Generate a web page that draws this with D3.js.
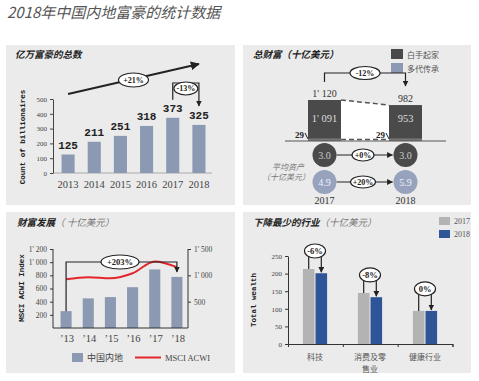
<!DOCTYPE html>
<html>
<head>
<meta charset="utf-8">
<script src="https://cdn.jsdelivr.net/npm/d3@7"></script>
<style>
body { margin: 0; background: #fff; }
text { font-family: "Liberation Serif", serif; fill: #333; }
.cjk { font-family: "Noto Sans CJK SC", sans-serif; }
.mono { font-family: "Liberation Mono", monospace; font-weight: bold; }
</style>
</head>
<body>
<div id="chart"></div>
<script>
// chart 1: billionaire count
var years = ["2013", "2014", "2015", "2016", "2017", "2018"];
var billionaires = [125, 211, 251, 318, 373, 325];
var countTicks = [0, 100, 200, 300, 400, 500];

// chart 2: total wealth
var wealthYears = ["2017", "2018"];
var totalWealth = [1120, 982];
var selfMade = [1091, 953];
var inherited = [29, 29];
var avgSelfMade = ["3.0", "3.0"];
var avgInherited = ["4.9", "5.9"];

// chart 3: wealth development
var devYears = ["13", "14", "15", "16", "17", "18"];
var mainland = [256, 450, 470, 620, 890, 776];
var msci = [925, 965, 945, 1040, 1265, 1155];
var leftTicks = [200, 400, 600, 800, 1000, 1200];
var rightTicks = [500, 1000, 1500];

// chart 4: industries
var industries = ["科技", "消费及零售业", "健康行业"];
var industryLines = [["科技"], ["消费及零", "售业"], ["健康行业"]];
var wealth2017 = [213, 145, 94];
var wealth2018 = [201, 133, 94];
var industryChange = ["-6%", "-8%", "0%"];
var industryTicks = [0, 50, 100, 150, 200, 250];

var blueGray = "#8c99b3", dark = "#4a4a4a", red = "#e3262b", navy = "#2e5597", lightGray = "#b3b3b3";
var fmt = d3.formatLocale({decimal: ".", thousands: "' ", grouping: [3], currency: ["", ""]}).format(",");

var svg = d3.select("#chart").append("svg").attr("width", 479).attr("height", 381);

var defs = svg.append("defs");
defs.append("marker").attr("id", "arr").attr("viewBox", "0 0 10 10")
    .attr("refX", 9).attr("refY", 5).attr("markerWidth", 5).attr("markerHeight", 5)
    .attr("orient", "auto")
  .append("path").attr("d", "M0,0L10,5L0,10z").attr("fill", "#222");

// title
svg.append("text").attr("class", "cjk").attr("x", 7).attr("y", 18)
    .style("font-size", "15px").style("font-style", "italic").style("fill", "#555")
    .text("2018年中国内地富豪的统计数据");

// panels
[[6, 45, 229, 160], [243, 45, 228, 160], [6, 212, 229, 161], [243, 212, 228, 161]].forEach(function(p){
	svg.append("rect").attr("x", p[0]).attr("y", p[1]).attr("width", p[2]).attr("height", p[3]).attr("fill", "#ebebeb");
});

function title(x, y, bold, rest){
	var t = svg.append("text").attr("class", "cjk").attr("x", x).attr("y", y)
	    .style("font-size", "9.5px").style("font-style", "italic");
	t.append("tspan").style("font-weight", "bold").style("fill", "#222").text(bold);
	if (rest) t.append("tspan").style("fill", "#777").text(rest);
}

function ellipse(g, cx, cy, rx, ry, label, size){
	g.append("ellipse").attr("cx", cx).attr("cy", cy).attr("rx", rx).attr("ry", ry)
	    .attr("fill", "#fff").attr("stroke", "#222").attr("stroke-width", 1.2);
	g.append("text").attr("x", cx).attr("y", cy + size * 0.35).attr("text-anchor", "middle")
	    .style("font-size", size + "px").style("font-weight", "bold").style("fill", "#222").text(label);
}

function bracket(g, x1, y1, x2, y2, top){
	g.append("path").attr("d", "M" + x1 + "," + y1 + "V" + top + "H" + x2 + "V" + y2)
	    .attr("fill", "none").attr("stroke", "#222").attr("stroke-width", 1.2)
	    .attr("marker-end", "url(#arr)");
}

function yLabel(x, y, txt){
	svg.append("text").attr("class", "mono").attr("transform", "translate(" + x + "," + y + ") rotate(-90)")
	    .attr("text-anchor", "middle").style("font-size", "7.5px").style("fill", "#222").text(txt);
}

// ---------- chart 1 ----------
title(15, 58, "亿万富豪的总数");
var g1 = svg.append("g");
var x1 = d3.scaleBand().domain(years).range([55, 212]).paddingInner(0.5).paddingOuter(0.25);
var y1 = d3.scaleLinear().domain([0, 500]).range([173, 99]);

g1.append("line").attr("x1", 53).attr("x2", 212).attr("y1", y1(0)).attr("y2", y1(0)).attr("stroke", "#aaa");
var ax1 = g1.append("g").attr("transform", "translate(53,0)")
    .call(d3.axisLeft(y1).tickValues(countTicks).tickSize(3).tickSizeOuter(0));
ax1.selectAll("text").style("font-size", "7px").style("fill", "#444").attr("font-family", null);
ax1.selectAll("line,path").attr("stroke", "#444");

g1.selectAll(".bar").data(billionaires).enter().append("rect")
    .attr("x", function(d, i){ return x1(years[i]); })
    .attr("y", function(d){ return y1(d); })
    .attr("width", x1.bandwidth())
    .attr("height", function(d){ return y1(0) - y1(d); })
    .attr("fill", blueGray);
g1.selectAll(".val").data(billionaires).enter().append("text")
    .attr("class", "mono")
    .attr("x", function(d, i){ return x1(years[i]) + x1.bandwidth() / 2; })
    .attr("y", function(d){ return y1(d) - 6; })
    .attr("text-anchor", "middle").style("font-size", "11px").style("fill", "#222")
    .text(function(d){ return d; });
g1.selectAll(".yr").data(years).enter().append("text")
    .attr("x", function(d){ return x1(d) + x1.bandwidth() / 2; })
    .attr("y", 188).attr("text-anchor", "middle").style("font-size", "10.5px").style("fill", "#444")
    .text(function(d){ return d; });
yLabel(25, 137, "Count of billionaires");

// +21% trend arrow
var c0 = x1(years[0]) + x1.bandwidth() / 2, c5 = x1(years[5]) + x1.bandwidth() / 2;
g1.append("line").attr("x1", c0).attr("y1", 94).attr("x2", c5).attr("y2", 64)
    .attr("stroke", "#222").attr("stroke-width", 1.8).attr("marker-end", "url(#arr)");
ellipse(g1, (c0 + c5) / 2, 80, 15, 7, "+21%", 8);
// -13%
var c4 = x1(years[4]) + x1.bandwidth() / 2;
bracket(g1, c4, y1(billionaires[4]) - 18, c5, y1(billionaires[5]) - 19, 83);
ellipse(g1, (c4 + c5) / 2, 88.5, 12, 6.5, "-13%", 8);

// ---------- chart 2 ----------
title(253, 58, "总财富（十亿美元）");
var g2 = svg.append("g");
var x2 = d3.scalePoint().domain(wealthYears).range([324.5, 405.5]);
var y2 = d3.scaleLinear().domain([0, 1120]).range([141, 100]);
var bw2 = 33;

// legend
[["白手起家", dark], ["多代传承", blueGray]].forEach(function(d, i){
	g2.append("rect").attr("x", 391).attr("y", 49 + i * 14).attr("width", 12).attr("height", 10).attr("fill", d[1]);
	g2.append("text").attr("class", "cjk").attr("x", 407).attr("y", 57.5 + i * 14)
	    .style("font-size", "8px").style("fill", "#555").text(d[0]);
});

var ax0 = x2("2017") + bw2 / 2, bx0 = x2("2018") - bw2 / 2;
g2.append("path")
    .attr("d", "M" + ax0 + "," + y2(totalWealth[0]) + "L" + bx0 + "," + y2(totalWealth[1]) +
        "L" + bx0 + "," + y2(0) + "L" + ax0 + "," + y2(0) + "Z")
    .attr("fill", "#fff");
g2.append("line").attr("x1", ax0).attr("y1", y2(totalWealth[0])).attr("x2", bx0).attr("y2", y2(totalWealth[1]))
    .attr("stroke", "#555").attr("stroke-width", 1.5).attr("stroke-dasharray", "5,3");
g2.append("line").attr("x1", ax0).attr("y1", y2(0) - 1.5).attr("x2", bx0).attr("y2", y2(0) - 1.5)
    .attr("stroke", "#555").attr("stroke-width", 1.5).attr("stroke-dasharray", "5,3");

g2.selectAll(".sm").data(totalWealth).enter().append("rect")
    .attr("x", function(d, i){ return x2(wealthYears[i]) - bw2 / 2; })
    .attr("y", function(d){ return y2(d); })
    .attr("width", bw2)
    .attr("height", function(d){ return y2(0) - y2(d); })
    .attr("fill", dark);
g2.selectAll(".inh").data(inherited).enter().append("rect")
    .attr("x", function(d, i){ return x2(wealthYears[i]) - bw2 / 2; })
    .attr("y", function(d){ return y2(d) - 1.5; })
    .attr("width", bw2)
    .attr("height", function(d){ return y2(0) - y2(d) + 1.5; })
    .attr("fill", "#777");
g2.append("line").attr("x1", 285).attr("x2", 446).attr("y1", y2(0)).attr("y2", y2(0)).attr("stroke", "#555");

g2.selectAll(".tot").data(totalWealth).enter().append("text")
    .attr("x", function(d, i){ return x2(wealthYears[i]); })
    .attr("y", function(d){ return y2(d) - 3; })
    .attr("text-anchor", "middle").style("font-size", "10px").style("fill", "#333")
    .text(function(d){ return fmt(d); });
g2.selectAll(".smv").data(selfMade).enter().append("text")
    .attr("x", function(d, i){ return x2(wealthYears[i]); })
    .attr("y", 122).attr("text-anchor", "middle").style("font-size", "10.5px").style("fill", "#ddd")
    .text(function(d){ return fmt(d); });
inherited.forEach(function(d, i){
	var bx = x2(wealthYears[i]) - bw2 / 2;
	g2.append("text").attr("x", bx - 4).attr("y", y2(0) - 3).attr("text-anchor", "end")
	    .style("font-size", "9px").style("font-weight", "bold").style("fill", "#222").text(d);
	g2.append("line").attr("x1", bx - 3).attr("y1", y2(0) - 8).attr("x2", bx).attr("y2", y2(0) - 2)
	    .attr("stroke", "#222").attr("stroke-width", 1);
});
bracket(g2, x2("2017"), 82, x2("2018"), 86, 73);
ellipse(g2, (x2("2017") + x2("2018")) / 2, 73, 15, 6.5, "-12%", 8);

// average wealth circles
var rows = [[avgSelfMade, dark, "#ccc", 155, "+0%"], [avgInherited, "#97a3bd", "#eef", 182, "+20%"]];
rows.forEach(function(r){
	g2.append("line").attr("x1", x2("2017") + 12).attr("x2", x2("2018") - 13)
	    .attr("y1", r[3]).attr("y2", r[3]).attr("stroke", "#222").attr("stroke-width", 1.2)
	    .attr("marker-end", "url(#arr)");
	g2.selectAll(null).data(r[0]).enter().append("circle")
	    .attr("cx", function(d, i){ return x2(wealthYears[i]); }).attr("cy", r[3]).attr("r", 12)
	    .attr("fill", r[1]);
	g2.selectAll(null).data(r[0]).enter().append("text")
	    .attr("x", function(d, i){ return x2(wealthYears[i]); }).attr("y", r[3] + 3.5)
	    .attr("text-anchor", "middle").style("font-size", "10px").style("fill", r[2])
	    .text(function(d){ return d; });
	ellipse(g2, (x2("2017") + x2("2018")) / 2 - 2, r[3], r[4].length > 3 ? 12.5 : 11, 6, r[4], 8);
});
g2.append("text").attr("class", "cjk").attr("x", 288).attr("y", 170).attr("text-anchor", "middle")
    .style("font-size", "8px").style("font-style", "italic").style("fill", "#777").text("平均资产");
g2.append("text").attr("class", "cjk").attr("x", 286).attr("y", 180).attr("text-anchor", "middle")
    .style("font-size", "8px").style("font-style", "italic").style("fill", "#777").text("（十亿美元）");
g2.selectAll(".wy").data(wealthYears).enter().append("text")
    .attr("x", function(d){ return x2(d); }).attr("y", 204).attr("text-anchor", "middle")
    .style("font-size", "10px").style("fill", "#333").text(function(d){ return d; });

// ---------- chart 3 ----------
title(17, 226, "财富发展", "（ 十亿美元）");
var g3 = svg.append("g");
var x3 = d3.scaleBand().domain(devYears).range([55, 188]).paddingInner(0.5).paddingOuter(0.25);
var y3 = d3.scaleLinear().domain([0, 1200]).range([328, 249]);
var y3r = d3.scaleLinear().domain([0, 1500]).range([328, 249]);

g3.selectAll(".bar").data(mainland).enter().append("rect")
    .attr("x", function(d, i){ return x3(devYears[i]); })
    .attr("y", function(d){ return y3(d); })
    .attr("width", x3.bandwidth())
    .attr("height", function(d){ return y3(0) - y3(d); })
    .attr("fill", blueGray);

var axl = g3.append("g").attr("transform", "translate(53,0)")
    .call(d3.axisLeft(y3).tickValues(leftTicks).tickFormat(fmt).tickSize(3).tickSizeOuter(0));
var axr = g3.append("g").attr("transform", "translate(188,0)")
    .call(d3.axisRight(y3r).tickValues(rightTicks).tickFormat(fmt).tickSize(3).tickSizeOuter(0));
[axl, axr].forEach(function(a){
	a.select(".domain").attr("d", "M0,328V249");
	a.selectAll("text").style("font-size", "7.5px").style("fill", "#444").attr("font-family", null);
	a.selectAll("line,path").attr("stroke", "#333");
});
g3.append("line").attr("x1", 53).attr("x2", 188).attr("y1", 328).attr("y2", 328).attr("stroke", "#333");
g3.selectAll(".yr").data(devYears).enter().append("text")
    .attr("x", function(d){ return x3(d) + x3.bandwidth() / 2 + 1; })
    .attr("y", 342).attr("text-anchor", "middle").style("font-size", "10.5px").style("fill", "#444")
    .text(function(d){ return "’" + d; });

var line3 = d3.line()
    .x(function(d, i){ return x3(devYears[i]) + x3.bandwidth() / 2; })
    .y(function(d){ return y3r(d); })
    .curve(d3.curveMonotoneX);
g3.append("path").datum(msci).attr("d", line3).attr("fill", "none").attr("stroke", red).attr("stroke-width", 2);

var d0 = x3(devYears[0]) + x3.bandwidth() / 2, d5 = x3(devYears[5]) + x3.bandwidth() / 2;
bracket(g3, d0, y3(mainland[0]), d5, 272, 262);
ellipse(g3, 120, 262, 19, 7, "+203%", 8.5);
yLabel(24, 288, "MSCI ACWI Index");

g3.append("rect").attr("x", 72).attr("y", 353).attr("width", 11).attr("height", 9).attr("fill", blueGray);
g3.append("text").attr("class", "cjk").attr("x", 87).attr("y", 361).style("font-size", "9px").style("fill", "#444").text("中国内地");
g3.append("line").attr("x1", 135).attr("x2", 161).attr("y1", 357.5).attr("y2", 357.5).attr("stroke", red).attr("stroke-width", 2);
g3.append("text").attr("x", 165).attr("y", 361).style("font-size", "8.5px").style("fill", "#444")
    .attr("font-family", "Liberation Mono").text("MSCI ACWI");

// ---------- chart 4 ----------
title(253, 226, "下降最少的行业", "（十亿美元）");
var g4 = svg.append("g");
var x4 = d3.scaleBand().domain(industries).range([287.5, 452.5]).paddingInner(0.56).paddingOuter(0.28);
var xs = d3.scaleBand().domain(["2017", "2018"]).range([0, x4.bandwidth()]).paddingInner(0.08);
var y4 = d3.scaleLinear().domain([0, 250]).range([344, 256]);

[["2017", lightGray], ["2018", navy]].forEach(function(d, i){
	g4.append("rect").attr("x", 439).attr("y", 217 + i * 13).attr("width", 11).attr("height", 8).attr("fill", d[1]);
	g4.append("text").attr("x", 454).attr("y", 224 + i * 13).style("font-size", "8px").style("fill", "#555").text(d[0]);
});

var ax4 = g4.append("g").attr("transform", "translate(288,0)")
    .call(d3.axisLeft(y4).tickValues(industryTicks).tickSize(3).tickSizeOuter(0));
ax4.selectAll("text").style("font-size", "7px").style("fill", "#444").attr("font-family", null);
ax4.selectAll("line,path").attr("stroke", "#333");
var axb = g4.append("g").attr("transform", "translate(0,344)")
    .call(d3.axisBottom(d3.scaleLinear().domain([0, 3]).range([288, 452.5])).ticks(3).tickSize(3).tickFormat(""));
axb.selectAll("line,path").attr("stroke", "#333");

[[wealth2017, "2017", lightGray], [wealth2018, "2018", navy]].forEach(function(s){
	g4.selectAll(null).data(s[0]).enter().append("rect")
	    .attr("x", function(d, i){ return x4(industries[i]) + xs(s[1]); })
	    .attr("y", function(d){ return y4(d); })
	    .attr("width", xs.bandwidth())
	    .attr("height", function(d){ return y4(0) - y4(d); })
	    .attr("fill", s[2]);
});
industries.forEach(function(k, i){
	var a = x4(k) + xs("2017") + xs.bandwidth() / 2, b = x4(k) + xs("2018") + xs.bandwidth() / 2;
	var top = y4(Math.max(wealth2017[i], wealth2018[i])) - 18 - (i == 2 ? 4 : 0);
	bracket(g4, a, y4(wealth2017[i]), b, y4(wealth2018[i]) - 1, top);
	ellipse(g4, (a + b) / 2, top, 10.5, 7, industryChange[i], 8.5);
	industryLines[i].forEach(function(s, j){
		g4.append("text").attr("class", "cjk").attr("text-anchor", "middle")
		    .attr("x", x4(k) + x4.bandwidth() / 2).attr("y", 359.5 + j * 12)
		    .style("font-size", "8px").style("fill", "#555").text(s);
	});
});
yLabel(256, 300, "Total wealth");
</script>
</body>
</html>
